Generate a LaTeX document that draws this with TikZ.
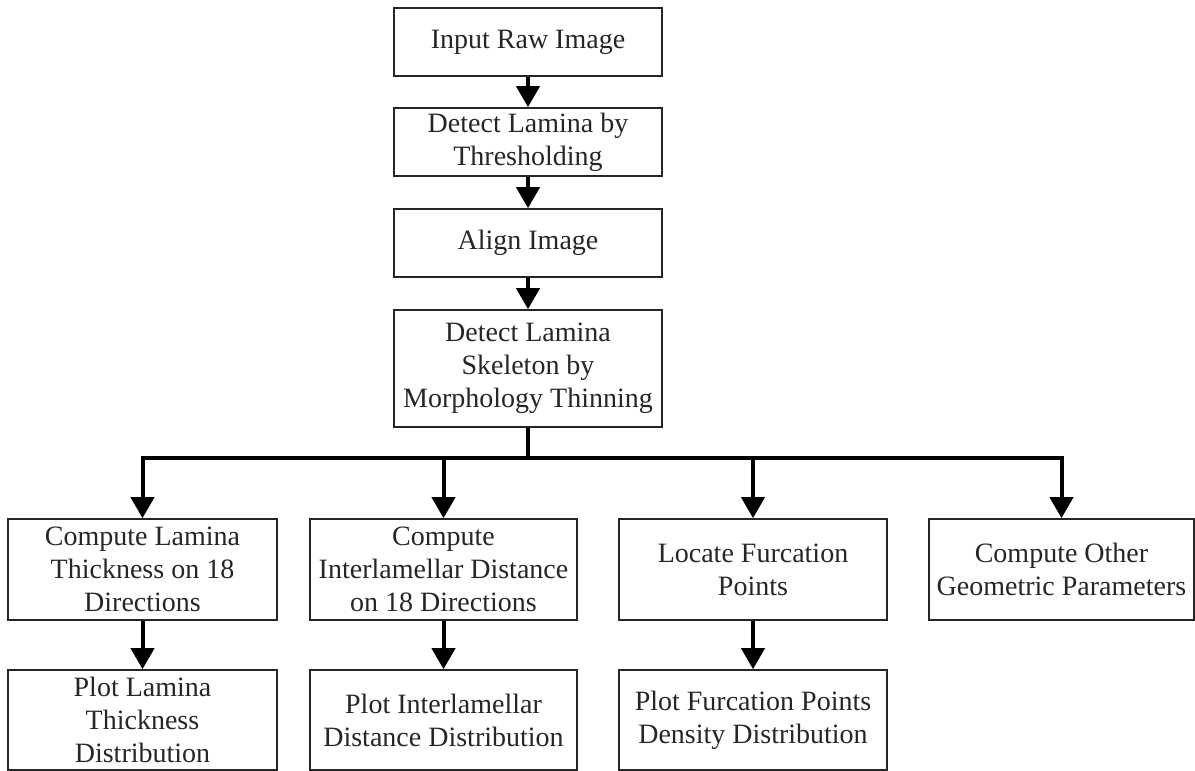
\documentclass[tikz,border=0pt]{standalone}
\usepackage{fontspec}
\setmainfont{Liberation Serif}
\usetikzlibrary{arrows.meta}
\begin{document}
\begin{tikzpicture}[x=1pt,y=-1pt,
  box/.style={draw=black!85, line width=1.6pt, inner sep=0pt, align=center,
    text=black!85, font=\fontsize{28}{33}\selectfont},
  conn/.style={line width=4pt, -{Triangle[width=23pt,length=21pt]}, black}
]
\useasboundingbox (0,0) rectangle (1195,771);
\node[box, minimum width=268pt, minimum height=68pt] (n1) at (528,42) {Input Raw Image};
\node[box, minimum width=268pt, minimum height=68pt] (n2) at (528,142) {Detect Lamina by\\Thresholding};
\node[box, minimum width=268pt, minimum height=68pt] (n3) at (528,243) {Align Image};
\node[box, minimum width=268pt, minimum height=117pt] (n4) at (528,368.5) {Detect Lamina\\Skeleton by\\Morphology Thinning};
\node[box, minimum width=269pt, minimum height=101pt] (r1) at (142.5,569.5) {Compute Lamina\\Thickness on 18\\Directions};
\node[box, minimum width=267pt, minimum height=101pt] (r2) at (443.5,569.5) {Compute\\Interlamellar Distance\\on 18 Directions};
\node[box, minimum width=268pt, minimum height=101pt] (r3) at (753,569.5) {Locate Furcation\\Points};
\node[box, minimum width=265pt, minimum height=101pt] (r4) at (1061.5,569.5) {Compute Other\\Geometric Parameters};
\node[box, minimum width=269pt, minimum height=100pt] (b1) at (142.5,720) {Plot Lamina\\Thickness\\Distribution};
\node[box, minimum width=267pt, minimum height=100pt] (b2) at (443.5,720) {Plot Interlamellar\\Distance Distribution};
\node[box, minimum width=268pt, minimum height=100pt] (b3) at (753,720) {Plot Furcation Points\\Density Distribution};
\draw[conn] (n1) -- (n2);
\draw[conn] (n2) -- (n3);
\draw[conn] (n3) -- (n4);
\coordinate (j) at (528,458);
\draw[conn] (n4.south) -- (j) -| (r1.north);
\draw[conn] (j) -| (r2.north);
\draw[conn] (j) -| (r3.north);
\draw[conn] (j) -| (r4.north);
\draw[conn] (r1) -- (b1);
\draw[conn] (r2) -- (b2);
\draw[conn] (r3) -- (b3);
\end{tikzpicture}
\end{document}
